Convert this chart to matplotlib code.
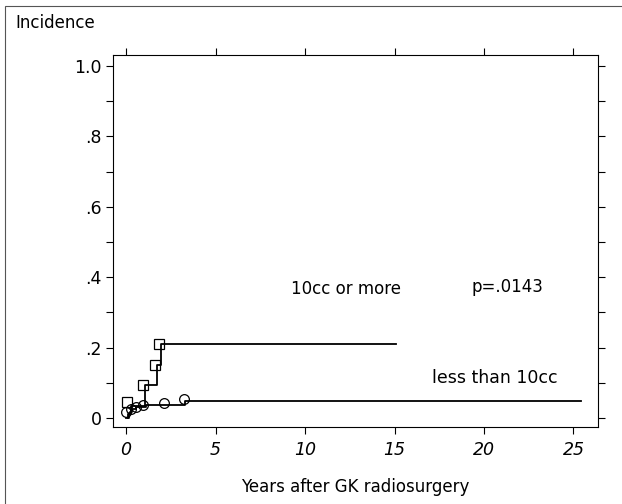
import matplotlib
matplotlib.use("Agg")
import matplotlib.pyplot as plt
from matplotlib.ticker import FixedLocator, MultipleLocator
from matplotlib.patches import Rectangle

# ---- data ----
large_times = [0.1, 0.15, 0.3, 1.06, 1.7, 1.94, 15.1]
large_vals = [0.0, 0.015, 0.033, 0.094, 0.15, 0.21, 0.21]
large_mark_t = [0.05, 0.97, 1.64, 1.86]
large_mark_v = [0.046, 0.094, 0.15, 0.21]

small_times = [0.0, 0.08, 0.2, 0.35, 0.55, 1.1, 3.3, 25.4]
small_vals = [0.0, 0.01, 0.018, 0.025, 0.032, 0.037, 0.048, 0.048]
small_mark_t = [0.0, 0.28, 0.55, 0.97, 2.1, 3.25]
small_mark_v = [0.018, 0.025, 0.03, 0.037, 0.043, 0.054]

x_ticks = [0, 5, 10, 15, 20, 25]
x_labels = ["0", "5", "10", "15", "20", "25"]
y_ticks = [0, 0.2, 0.4, 0.6, 0.8, 1.0]
y_labels = ["0", ".2", ".4", ".6", ".8", "1.0"]

plt.rcParams['font.family'] = ['DejaVu Sans']

fig = plt.figure(figsize=(6.22, 5.04), dpi=100)
ax = fig.add_axes([0.1817, 0.1528, 0.7797, 0.7381])

# outer frame of the figure
fig.patches.append(Rectangle((5/622, -0.01), 1.0, 1 - 6/504 + 0.01,
                             transform=fig.transFigure, fill=False,
                             edgecolor='#555555', linewidth=0.8))

ax.step(large_times, large_vals, where='post', color='black', lw=1.3)
ax.step(small_times, small_vals, where='post', color='black', lw=1.3)
ax.plot(large_mark_t, large_mark_v, linestyle='none', marker='s', ms=6.5,
        mfc='none', mec='black', mew=0.9)
ax.plot(small_mark_t, small_mark_v, linestyle='none', marker='o', ms=7,
        mfc='none', mec='black', mew=0.9)

ax.set_xlim(-0.73, 26.37)
ax.set_ylim(-0.0256, 1.031)

ax.xaxis.set_major_locator(FixedLocator(x_ticks))
ax.set_xticklabels(x_labels, fontstyle='italic', fontsize=12.5)
ax.yaxis.set_major_locator(FixedLocator(y_ticks))
ax.set_yticklabels(y_labels, fontsize=12.5)
ax.yaxis.set_minor_locator(MultipleLocator(0.1))

ax.tick_params(axis='x', which='both', direction='out', top=True, bottom=True,
               length=5, width=0.8, pad=5)
ax.tick_params(axis='y', which='both', direction='out', left=True, right=True,
               length=5, width=0.8, pad=3)
for s in ax.spines.values():
    s.set_linewidth(0.8)

ax.set_xlabel("Years after GK radiosurgery", fontsize=12, labelpad=14)
fig.text(15/622, 1 - 23/504, "Incidence", fontsize=12, va='center', ha='left')

ax.text(9.2, 0.366, "10cc or more", fontsize=12, va='center', ha='left')
ax.text(19.3, 0.372, "p=.0143", fontsize=12, va='center', ha='left')
ax.text(17.1, 0.114, "less than 10cc", fontsize=12.5, va='center', ha='left')

fig.savefig("out.png", dpi=100)
